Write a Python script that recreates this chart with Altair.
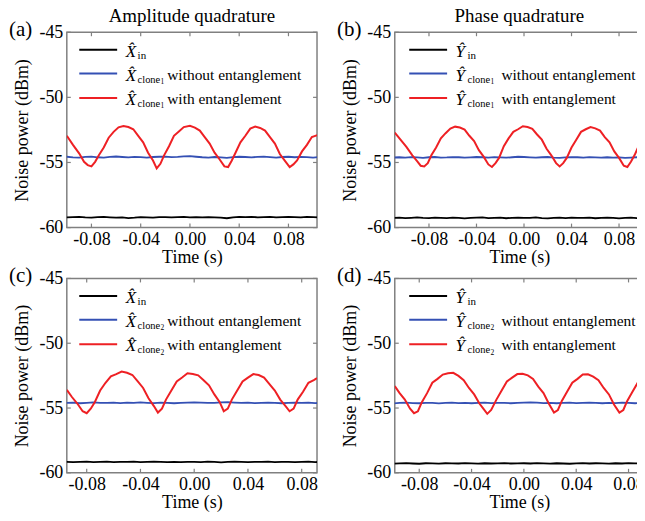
import altair as alt
import pandas as pd

FONT = "Liberation Serif"
GRAY = "#808080"
MINUS = "\u2212"

SERIES_COLORS = ["#000000", "#3450b4", "#ee2024"]
X_TICKS = [-0.08, -0.04, 0.0, 0.04, 0.08]
Y_TICKS = [-60, -55, -50, -45]
Y_DOMAIN = [-60, -45]

# time grid for the flat traces (5 ms steps)
T_FLAT = [-0.110, -0.105, -0.100, -0.095, -0.090, -0.085, -0.080, -0.075, -0.070, -0.065, -0.060,
          -0.055, -0.050, -0.045, -0.040, -0.035, -0.030, -0.025, -0.020, -0.015, -0.010, -0.005,
          0.000, 0.005, 0.010, 0.015, 0.020, 0.025, 0.030, 0.035, 0.040, 0.045, 0.050, 0.055,
          0.060, 0.065, 0.070, 0.075, 0.080, 0.085, 0.090, 0.095, 0.100, 0.105, 0.110]

# ---- panel (a) amplitude, clone 1
A_IN = [-59.20, -59.18, -59.22, -59.19, -59.17, -59.21, -59.23, -59.20, -59.18, -59.21, -59.24,
        -59.22, -59.27, -59.24, -59.19, -59.21, -59.23, -59.20, -59.19, -59.22, -59.20, -59.18,
        -59.21, -59.19, -59.22, -59.20, -59.21, -59.24, -59.28, -59.22, -59.18, -59.20, -59.17,
        -59.21, -59.19, -59.18, -59.22, -59.20, -59.17, -59.19, -59.21, -59.18, -59.20, -59.22, -59.19]
A_WO = [-54.58, -54.60, -54.56, -54.61, -54.63, -54.57, -54.55, -54.60, -54.62, -54.57, -54.54,
        -54.58, -54.61, -54.57, -54.59, -54.63, -54.58, -54.56, -54.55, -54.59, -54.57, -54.53,
        -54.52, -54.56, -54.60, -54.62, -54.58, -54.61, -54.64, -54.59, -54.56, -54.58, -54.61,
        -54.57, -54.55, -54.59, -54.62, -54.58, -54.56, -54.60, -54.57, -54.59, -54.62, -54.58, -54.60]
A_RED_T = [-0.100, -0.095, -0.090, -0.086, -0.083, -0.080, -0.077, -0.074, -0.070, -0.066, -0.062,
           -0.058, -0.054, -0.050, -0.046, -0.042, -0.038, -0.034, -0.030, -0.027, -0.024, -0.021,
           -0.017, -0.013, -0.009, -0.005, 0.000, 0.004, 0.008, 0.012, 0.016, 0.020, 0.024, 0.028,
           0.031, 0.034, 0.037, 0.041, 0.045, 0.049, 0.053, 0.057, 0.061, 0.065, 0.069, 0.073,
           0.077, 0.081, 0.084, 0.087, 0.091, 0.095, 0.099, 0.1035]
A_RED = [-52.95, -53.65, -54.30, -54.95, -55.20, -55.30, -54.95, -54.45, -53.85, -53.10, -52.65,
         -52.30, -52.20, -52.28, -52.45, -52.95, -53.45, -54.25, -54.85, -55.45, -55.10, -54.45,
         -53.75, -52.95, -52.62, -52.28, -52.18, -52.32, -52.55, -53.05, -53.55, -54.25, -54.75, -55.30,
         -55.35, -54.85, -54.25, -53.45, -52.95, -52.40, -52.25, -52.35, -52.55, -53.05, -53.55, -54.35,
         -54.85, -55.35, -55.15, -54.85, -54.15, -53.65, -53.05, -52.90]

# ---- panel (b) phase, clone 1
B_IN = [-59.25, -59.24, -59.27, -59.25, -59.22, -59.26, -59.28, -59.24, -59.25, -59.27, -59.23,
        -59.25, -59.29, -59.26, -59.24, -59.22, -59.27, -59.25, -59.24, -59.28, -59.25, -59.23,
        -59.26, -59.25, -59.22, -59.27, -59.29, -59.25, -59.24, -59.27, -59.23, -59.25, -59.26,
        -59.24, -59.28, -59.25, -59.23, -59.26, -59.29, -59.25, -59.24, -59.27, -59.25, -59.23, -59.26]
B_WO = [-54.62, -54.60, -54.63, -54.59, -54.61, -54.64, -54.60, -54.58, -54.62, -54.61, -54.59,
        -54.60, -54.63, -54.61, -54.58, -54.60, -54.62, -54.59, -54.61, -54.63, -54.60, -54.56,
        -54.58, -54.61, -54.63, -54.60, -54.58, -54.62, -54.64, -54.61, -54.59, -54.60, -54.62,
        -54.59, -54.61, -54.63, -54.60, -54.62, -54.61, -54.64, -54.62, -54.60, -54.63, -54.61, -54.62]
B_RED_T = [-0.1088, -0.104, -0.099, -0.094, -0.090, -0.087, -0.084, -0.081, -0.078, -0.074, -0.070,
           -0.066, -0.062, -0.058, -0.054, -0.050, -0.046, -0.042, -0.038, -0.034, -0.030, -0.027,
           -0.024, -0.021, -0.017, -0.013, -0.009, -0.005, -0.001, 0.003, 0.007, 0.011, 0.015, 0.019,
           0.023, 0.027, 0.030, 0.033, 0.036, 0.040, 0.044, 0.048, 0.052, 0.056, 0.060, 0.064, 0.068,
           0.072, 0.076, 0.080, 0.084, 0.087, 0.090, 0.093, 0.097, 0.101]
B_RED = [-52.70, -53.25, -53.80, -54.45, -54.90, -55.25, -55.30, -55.05, -54.45, -53.85, -53.15,
         -52.75, -52.40, -52.25, -52.32, -52.48, -52.95, -53.35, -54.05, -54.55, -55.15, -55.35,
         -55.05, -54.65, -53.75, -53.15, -52.65, -52.45, -52.22, -52.28, -52.42, -52.85, -53.25, -53.95,
         -54.45, -55.05, -55.30, -55.05, -54.65, -53.85, -53.25, -52.65, -52.45, -52.28, -52.38, -52.55, -53.05,
         -53.45, -54.15, -54.65, -55.25, -55.35, -54.95, -54.45, -53.65, -53.10]

# ---- panel (c) amplitude, clone 2
C_IN = [-59.15, -59.17, -59.14, -59.16, -59.18, -59.15, -59.13, -59.17, -59.16, -59.14, -59.18,
        -59.15, -59.16, -59.14, -59.17, -59.15, -59.13, -59.16, -59.18, -59.15, -59.17, -59.16,
        -59.15, -59.17, -59.14, -59.16, -59.19, -59.15, -59.13, -59.16, -59.18, -59.15, -59.16,
        -59.14, -59.17, -59.15, -59.16, -59.18, -59.15, -59.14, -59.17, -59.16, -59.15, -59.17, -59.16]
C_WO = [-54.60, -54.62, -54.58, -54.61, -54.59, -54.63, -54.60, -54.57, -54.61, -54.60, -54.58,
        -54.62, -54.59, -54.61, -54.57, -54.60, -54.62, -54.59, -54.60, -54.63, -54.61, -54.59,
        -54.56, -54.58, -54.61, -54.60, -54.57, -54.55, -54.58, -54.61, -54.59, -54.62, -54.60,
        -54.58, -54.61, -54.63, -54.60, -54.58, -54.61, -54.59, -54.62, -54.60, -54.58, -54.61, -54.60]
C_RED_T = [-0.0948, -0.091, -0.087, -0.083, -0.080, -0.077, -0.074, -0.070, -0.066, -0.062, -0.058,
           -0.054, -0.050, -0.046, -0.042, -0.038, -0.034, -0.030, -0.027, -0.024, -0.021, -0.017,
           -0.013, -0.009, -0.005, -0.001, 0.003, 0.007, 0.011, 0.015, 0.019, 0.022, 0.025, 0.028,
           0.032, 0.036, 0.040, 0.044, 0.048, 0.052, 0.056, 0.060, 0.064, 0.068, 0.071, 0.074, 0.077,
           0.081, 0.085, 0.089, 0.0914]
C_RED = [-53.60, -54.15, -54.65, -55.25, -55.40, -55.05, -54.55, -53.65, -53.05, -52.55, -52.38,
         -52.18, -52.28, -52.45, -52.95, -53.45, -54.25, -54.85, -55.35, -55.05, -54.35, -53.65,
         -52.95, -52.65, -52.32, -52.38, -52.48, -52.85, -53.25, -53.95, -54.55, -55.25, -55.05, -54.35,
         -53.65, -52.95, -52.65, -52.38, -52.45, -52.65, -53.15, -53.65, -54.35, -54.85, -55.25, -55.05, -54.35,
         -53.75, -53.05, -52.85, -52.70]

# ---- panel (d) phase, clone 2
D_IN = [-59.28, -59.26, -59.29, -59.27, -59.25, -59.28, -59.30, -59.26, -59.27, -59.29, -59.26,
        -59.27, -59.28, -59.25, -59.27, -59.29, -59.26, -59.28, -59.27, -59.25, -59.28, -59.27,
        -59.26, -59.28, -59.25, -59.27, -59.29, -59.26, -59.28, -59.30, -59.27, -59.25, -59.28,
        -59.26, -59.27, -59.29, -59.26, -59.28, -59.25, -59.27, -59.28, -59.26, -59.29, -59.27, -59.26]
D_WO = [-54.62, -54.60, -54.64, -54.61, -54.59, -54.62, -54.63, -54.60, -54.61, -54.64, -54.60,
        -54.59, -54.62, -54.61, -54.63, -54.60, -54.59, -54.62, -54.61, -54.60, -54.63, -54.61,
        -54.58, -54.56, -54.59, -54.62, -54.60, -54.63, -54.61, -54.59, -54.62, -54.60, -54.58,
        -54.61, -54.63, -54.60, -54.62, -54.59, -54.61, -54.63, -54.60, -54.62, -54.64, -54.61, -54.62]
D_RED_T = [-0.0987, -0.095, -0.091, -0.087, -0.084, -0.081, -0.078, -0.074, -0.070, -0.066, -0.062,
           -0.058, -0.054, -0.050, -0.046, -0.042, -0.038, -0.034, -0.031, -0.028, -0.025, -0.021,
           -0.017, -0.013, -0.009, -0.005, -0.001, 0.003, 0.007, 0.011, 0.015, 0.019, 0.023, 0.026,
           0.029, 0.033, 0.037, 0.041, 0.045, 0.049, 0.053, 0.057, 0.061, 0.065, 0.069, 0.073, 0.076,
           0.079, 0.083, 0.087, 0.0918]
D_RED = [-53.30, -53.85, -54.35, -55.05, -55.40, -55.25, -54.55, -53.85, -53.05, -52.75, -52.42,
         -52.32, -52.28, -52.52, -52.85, -53.45, -53.95, -54.65, -55.05, -55.45, -55.15, -54.35,
         -53.65, -52.95, -52.65, -52.38, -52.35, -52.48, -52.75, -53.35, -53.85, -54.65, -55.35, -55.15,
         -54.45, -53.75, -53.05, -52.75, -52.42, -52.40, -52.58, -52.85, -53.45, -53.95, -54.75, -55.35, -55.15,
         -54.45, -53.75, -53.05, -52.70]

LEG_Y = [17.5, 41.5, 66.0]
ONE = pd.DataFrame({"k": [0]})


def txt(s, x, y, size, italic=False, align="left"):
    return alt.Chart(ONE).mark_text(
        text=s, font=FONT, fontSize=size, fontStyle="italic" if italic else "normal",
        align=align, baseline="alphabetic", color="black"
    ).encode(x=alt.value(x), y=alt.value(y))


def make_panel(letter, sym, idx, title, x_dom, w, h, t_red, v_red, v_in, v_wo, dx, ddesc):
    xs = alt.Scale(domain=x_dom, nice=False, zero=False)
    ys = alt.Scale(domain=Y_DOMAIN, nice=False, zero=False)
    xaxis = alt.Axis(values=X_TICKS, title="Time (s)",
                     labelExpr="replace(format(datum.value, '.2f'), '" + MINUS + "', '-')",
                     grid=False, domain=False, ticks=False, labelPadding=3, titlePadding=0,
                     labelFont=FONT, labelFontSize=18, labelColor="black",
                     titleFont=FONT, titleFontSize=18, titleFontWeight="normal", titleColor="black",
                     labelFlush=False, labelOverlap=False)
    yaxis = alt.Axis(values=Y_TICKS, title="Noise power (dBm)",
                     labelExpr="replace(format(datum.value, 'd'), '" + MINUS + "', '-')",
                     grid=False, domain=False, ticks=False, labelPadding=4, titlePadding=7,
                     labelFont=FONT, labelFontSize=18, labelColor="black",
                     titleFont=FONT, titleFontSize=18, titleFontWeight="normal", titleColor="black",
                     labelFlush=False, labelOverlap=False)
    X = alt.X("t:Q", scale=xs, axis=xaxis)
    Y = alt.Y("v:Q", scale=ys, axis=yaxis)

    def line(tvals, vvals, color, sw):
        n = min(len(tvals), len(vvals))
        df = pd.DataFrame({"t": tvals[:n], "v": vvals[:n]})
        return alt.Chart(df).mark_line(clip=True, strokeWidth=sw, color=color).encode(x=X, y=Y)

    layers = [line(T_FLAT, v_in, SERIES_COLORS[0], 1.8),
              line(T_FLAT, v_wo, SERIES_COLORS[1], 1.8),
              line(t_red, v_red, SERIES_COLORS[2], 2)]

    xt = pd.DataFrame({"t": X_TICKS})
    yt = pd.DataFrame({"v": Y_TICKS})
    for y0, y1 in [(h, h - 4), (0, 4)]:
        layers.append(alt.Chart(xt).mark_rule(color=GRAY, strokeWidth=1.2).encode(
            x=X, y=alt.value(y0), y2=alt.value(y1)))
    for x0, x1 in [(0, 4), (w, w - 4)]:
        layers.append(alt.Chart(yt).mark_rule(color=GRAY, strokeWidth=1.2).encode(
            y=Y, x=alt.value(x0), x2=alt.value(x1)))

    rows = [("in", "", ""), ("clone", idx, "without entanglement"), ("clone", idx, "with entanglement")]
    for i, (sub, num, desc) in enumerate(rows):
        ly = LEG_Y[i]
        layers.append(alt.Chart(ONE).mark_rule(color=SERIES_COLORS[i], strokeWidth=2).encode(
            x=alt.value(dx + 12.5), x2=alt.value(dx + 50.5), y=alt.value(ly)))
        layers.append(txt(sym, dx + 59, ly + 7, 17, italic=True))
        layers.append(txt(sub, dx + 71, ly + 9, 11 if sub == "in" else 10.5))
        if num:
            layers.append(txt(num, dx + 94, ly + 10.5, 7.5))
        if desc:
            layers.append(txt(desc, dx + ddesc, ly + 6, 15.5))

    layers.append(txt(letter, -58, 4, 21))
    if title:
        layers.append(txt(title, w / 2, -10.5, 19, align="center"))

    return alt.layer(*layers).properties(width=w, height=h)


pa = make_panel("(a)", "X\u0302", "1", "Amplitude quadrature", [-0.1, 0.1032], 251, 196,
                A_RED_T, A_RED, A_IN, A_WO, 0, 100.7)
pb = make_panel("(b)", "\u0176", "1", "Phase quadrature", [-0.1088, 0.101], 250, 196,
                B_RED_T, B_RED, B_IN, B_WO, 2, 105)
pc = make_panel("(c)", "X\u0302", "2", None, [-0.0948, 0.0914], 251, 195,
                C_RED_T, C_RED, C_IN, C_WO, 0, 100.7)
pd_ = make_panel("(d)", "\u0176", "2", None, [-0.0987, 0.0918], 250, 195,
                 D_RED_T, D_RED, D_IN, D_WO, 2, 105)

# the figure is cropped on the right like the original: negative right padding clips it
chart = alt.concat(pa, pb, pc, pd_, columns=2, spacing={"row": 51, "column": 78},
                   bounds="flush").properties(
    padding={"top": -3.5, "left": 0, "right": -9, "bottom": -1}, background="white"
).configure_view(stroke=GRAY, strokeWidth=1.5)

chart.save("out.html", embed_options={"renderer": "svg", "actions": False})
